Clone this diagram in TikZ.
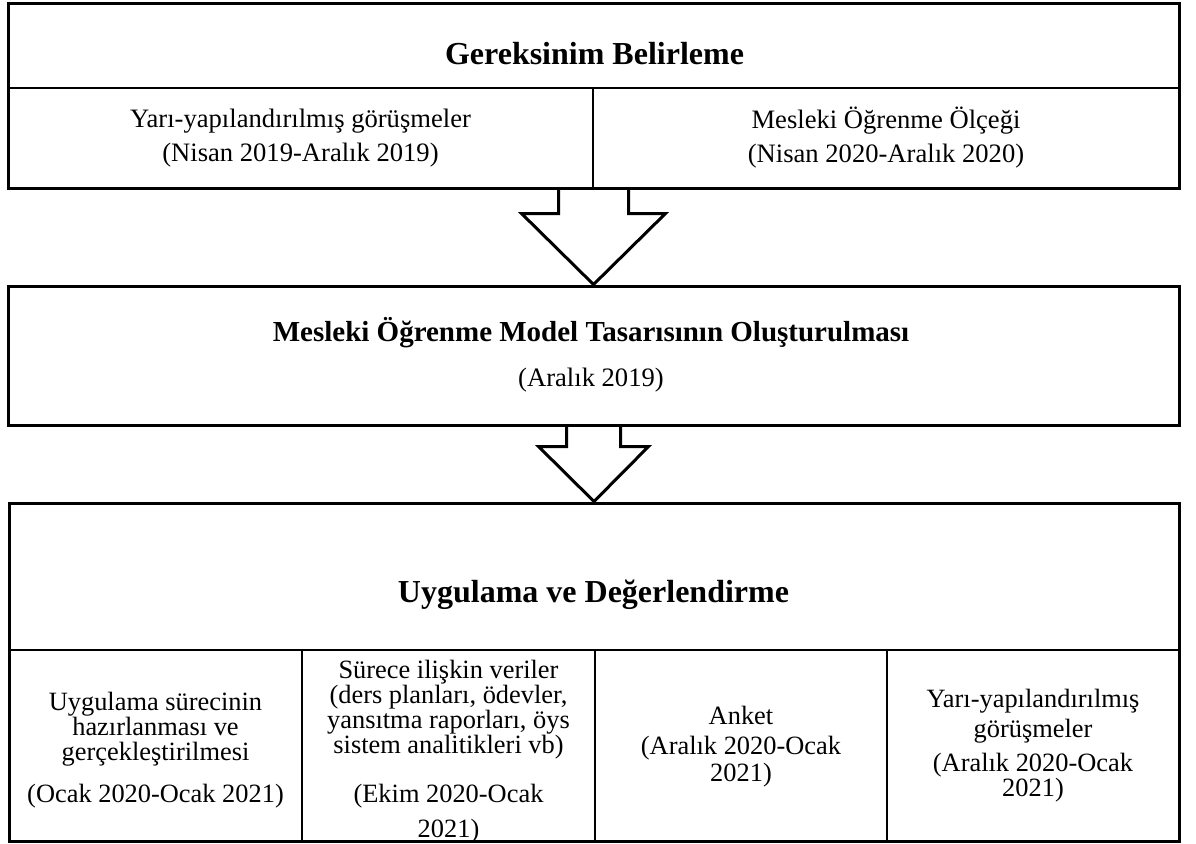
\documentclass[tikz,border=0pt]{standalone}
\usepackage{fontspec}
\setmainfont{Liberation Serif}
\usetikzlibrary{calc}
\newcommand{\titlefont}{\fontsize{32}{38}\selectfont\bfseries}
\newcommand{\topfont}{\fontsize{26.6}{34}\selectfont}
\newcommand{\cellfont}{\fontsize{26.4}{25}\selectfont}
% open block arrow from the bottom of #1 to the top of #2
% #3 half shaft width, #4 half head width, #5 shaft length
\newcommand{\blockarrow}[5]{
  \draw[arrowline] ($(#1.south)+(-#3,0)$) -- ++(0,#5) -- ++(#3-#4,0) -- (#2.north)
    -- ($(#1.south)+(#4,#5)$) -- ++(#3-#4,0) -- ++(0,-#5);
}
\tikzset{
  frame/.style={draw, line width=3pt, inner sep=0pt},
  cell/.style={draw, line width=1.6pt, inner sep=0pt, align=center},
  celltext/.style={inner sep=0pt, align=center, font=\cellfont},
  arrowline/.style={line width=3pt, line join=miter},
}

\begin{document}
\begin{tikzpicture}[x=1pt,y=-1pt]
\useasboundingbox (0,0) rectangle (1196,843);
% Gereksinim Belirleme
\node[cell, minimum width=585pt, minimum height=100pt, font=\topfont] (gb1) at (300.5,138) {Yarı-yapılandırılmış görüşmeler\\(Nisan 2019-Aralık 2019)};
\node[cell, minimum width=586pt, minimum height=100pt, font=\topfont] (gb2) at (886,138) {Mesleki Öğrenme Ölçeği\\(Nisan 2020-Aralık 2020)};
\node[frame, minimum width=1171pt, minimum height=184pt] (gb) at (593.5,96) {};
\node[anchor=base, font=\titlefont] (gbt) at (594.5,64) {Gereksinim Belirleme};
% Model tasarisi
\node[frame, minimum width=1171pt, minimum height=139pt] (mo) at (593.5,355.5) {};
\node[inner sep=0pt, align=center, font=\fontsize{26.6}{45}\selectfont] (mot) at (591,355) {{\fontsize{29}{45}\selectfont\bfseries Mesleki Öğrenme Model Tasarısının Oluşturulması}\\(Aralık 2019)};
% Uygulama ve Degerlendirme
\node[cell, minimum width=293pt, minimum height=191pt] (c1) at (155.5,745.5) {};
\node[cell, minimum width=293pt, minimum height=191pt] (c2) at (448.5,745.5) {};
\node[cell, minimum width=292pt, minimum height=191pt] (c3) at (741,745.5) {};
\node[cell, minimum width=292pt, minimum height=191pt] (c4) at (1033,745.5) {};
\node[frame, minimum width=1170pt, minimum height=338pt] (ud) at (594,672) {};
\node[anchor=base, font=\titlefont] (udt) at (593.5,602) {Uygulama ve Değerlendirme};
\node[celltext] (c1t) at (155.5,750.5) {Uygulama sürecinin\\hazırlanması ve\\gerçekleştirilmesi\\[17pt](Ocak 2020-Ocak 2021)};
\node[celltext] (c2t) at (448.5,752) {Sürece ilişkin veriler\\(ders planları, ödevler,\\yansıtma raporları, öys\\sistem analitikleri vb)\\[24pt](Ekim 2020-Ocak\\[10pt]2021)};
\node[celltext] (c3t) at (741,747) {Anket\\[5pt](Aralık 2020-Ocak\\[2pt]2021)};
\node[celltext] (c4t) at (1033,746) {Yarı-yapılandırılmış\\[5pt]görüşmeler\\[9pt](Aralık 2020-Ocak\\2021)};
% arrows
\blockarrow{gb}{mo}{35}{72}{24}
\blockarrow{mo}{ud}{27}{55}{20}
\end{tikzpicture}
\end{document}
